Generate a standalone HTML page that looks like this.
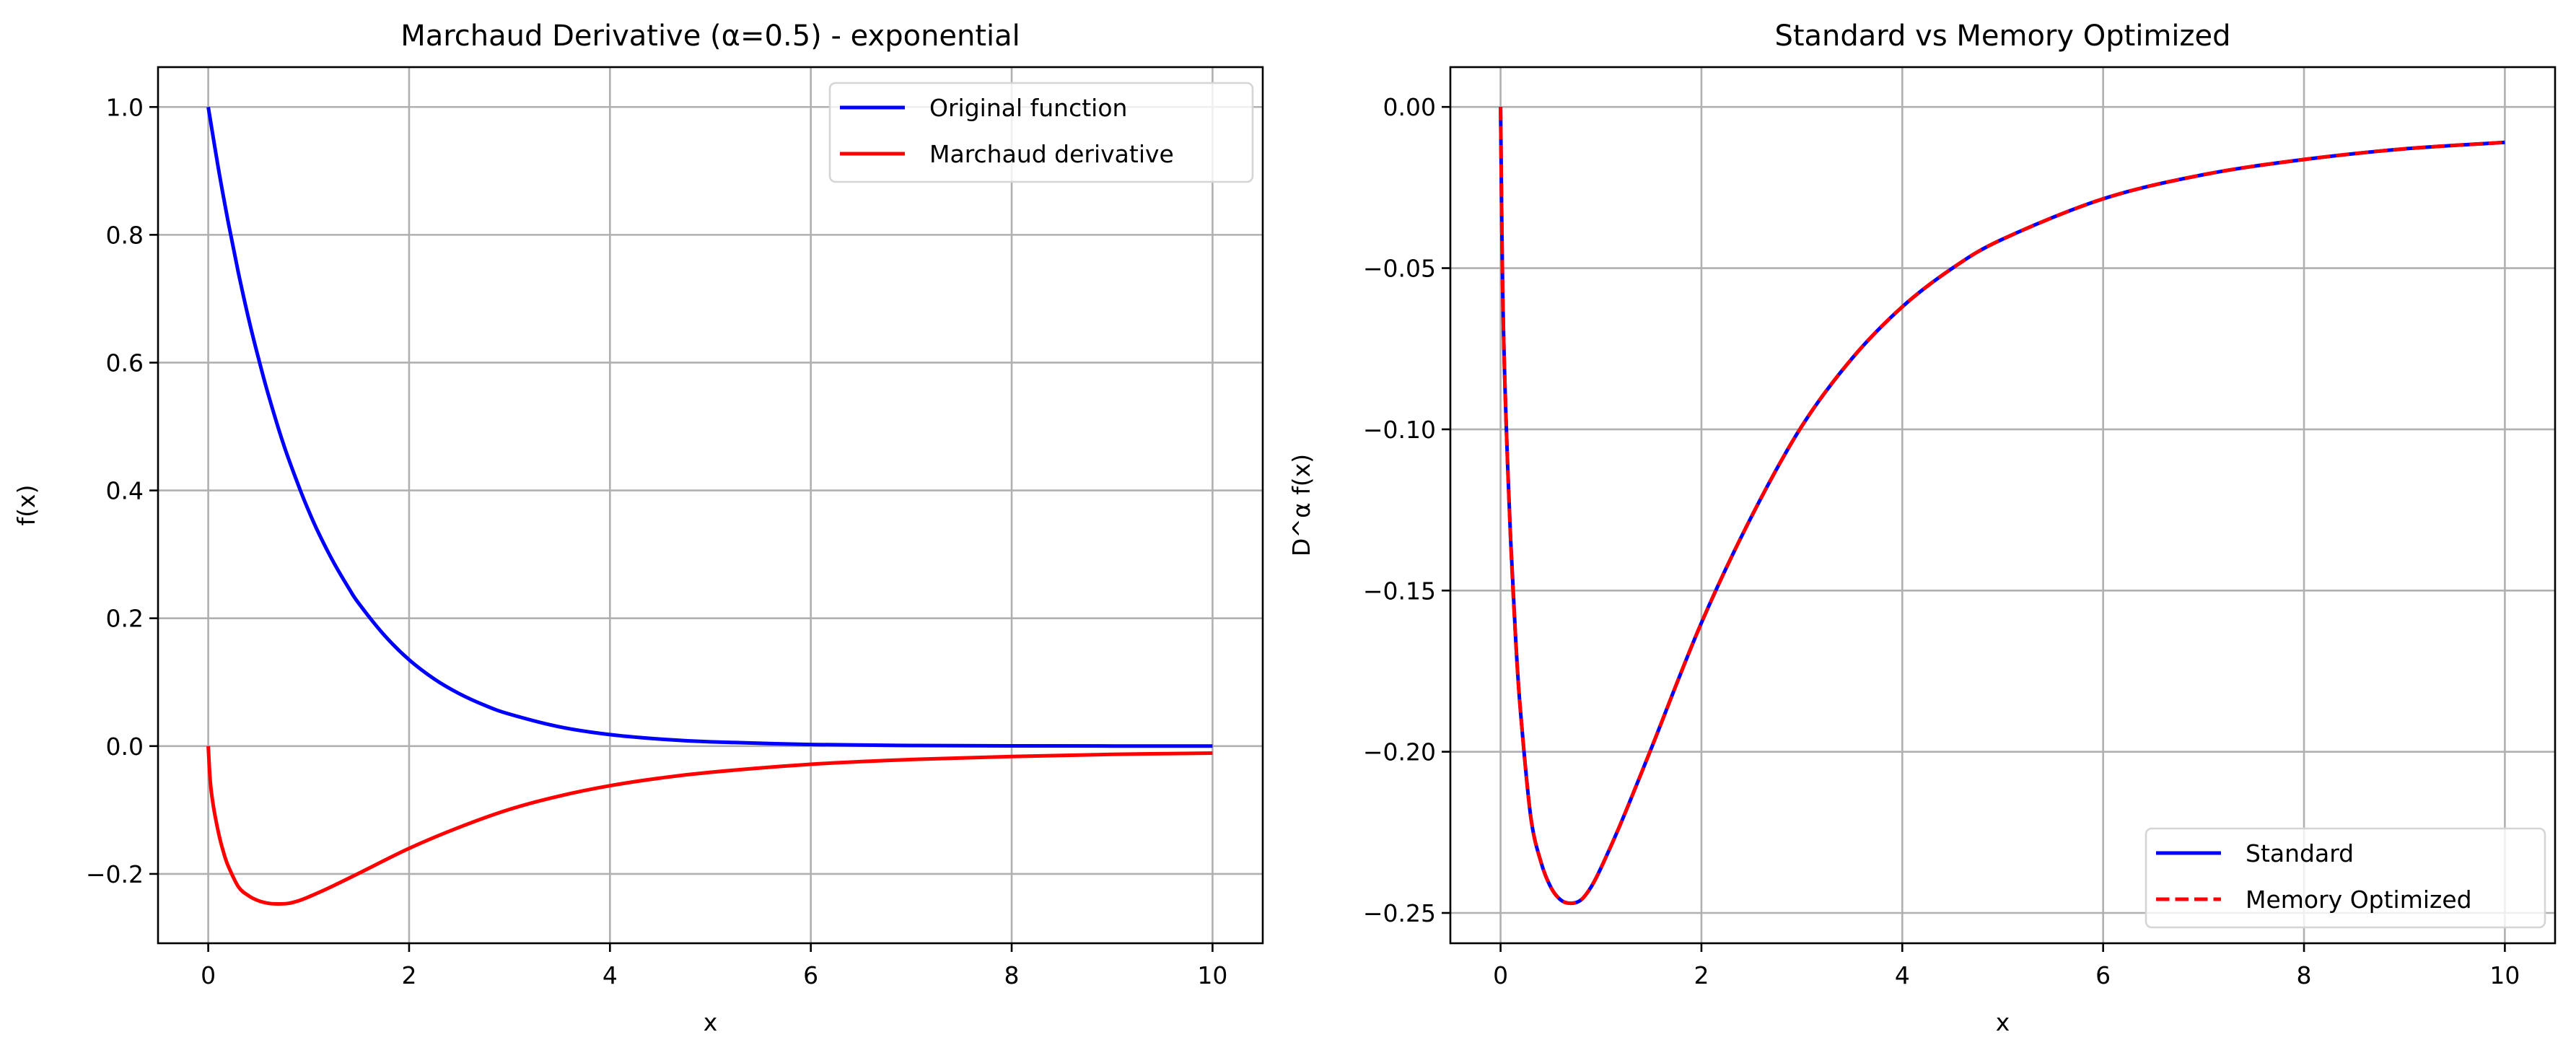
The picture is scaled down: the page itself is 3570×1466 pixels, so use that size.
<!DOCTYPE html>
<html><head><meta charset="utf-8">
<style>
html,body{margin:0;padding:0;background:#fff;}
svg{display:block;font-family:"DejaVu Sans","Liberation Sans",sans-serif;}
</style></head>
<body>
<svg id="fig" width="3570" height="1466" viewBox="0 0 3570 1466" xmlns="http://www.w3.org/2000/svg">
<rect x="0" y="0" width="3570" height="1466" fill="#fff"/>
</svg>
<script>
// ---- data ----
const xTicks = [0, 2, 4, 6, 8, 10];
const leftYTicks = [-0.2, 0.0, 0.2, 0.4, 0.6, 0.8, 1.0];
const leftYTickLabels = ["\u22120.2", "0.0", "0.2", "0.4", "0.6", "0.8", "1.0"];
const rightYTicks = [-0.25, -0.20, -0.15, -0.10, -0.05, 0.00];
const rightYTickLabels = ["\u22120.25", "\u22120.20", "\u22120.15", "\u22120.10", "\u22120.05", "0.00"];

const origX = [0, 0.1, 0.2, 0.3, 0.4, 0.5, 0.6, 0.75, 0.9, 1, 1.1, 1.25, 1.4, 1.5, 1.75, 2, 2.25, 2.5, 2.75, 3, 3.5, 4, 4.5, 5, 6, 7, 8, 9, 10];
const origY = [1, 0.905, 0.819, 0.741, 0.670, 0.607, 0.549, 0.472, 0.407, 0.368, 0.333, 0.287, 0.247, 0.223, 0.174, 0.135, 0.105, 0.082, 0.064, 0.050, 0.030, 0.018, 0.011, 0.0067, 0.0025, 0.0009, 0.0003, 0.0001, 0.0];

const derivX = [0, 0.02, 0.05, 0.1, 0.15, 0.2, 0.3, 0.4, 0.5, 0.6, 0.7, 0.8, 0.9, 1.0, 1.2, 1.5, 2, 2.5, 3, 3.5, 4, 4.5, 5, 6, 7, 8, 9, 10];
const derivY = [0, -0.055, -0.093, -0.134, -0.165, -0.188, -0.220, -0.234, -0.242, -0.246, -0.247, -0.246, -0.242, -0.236, -0.222, -0.199, -0.160, -0.127, -0.099, -0.078, -0.062, -0.050, -0.041, -0.0285, -0.021, -0.0163, -0.013, -0.011];

// ---- layout ----
const NS = "http://www.w3.org/2000/svg";
const svg = document.getElementById('fig');
function el(tag, attrs, parent) {
  const e = document.createElementNS(NS, tag);
  for (const k in attrs) e.setAttribute(k, attrs[k]);
  (parent || svg).appendChild(e);
  return e;
}
function makeAxes(L, R, T, B, xmin, xmax, ymin, ymax) {
  return {L, R, T, B,
    sx: v => L + (v - xmin) / (xmax - xmin) * (R - L),
    sy: v => B - (v - ymin) / (ymax - ymin) * (B - T)};
}
function smoothPath(ax, xs, ys) {
  const p = xs.map((x, i) => [ax.sx(x), ax.sy(ys[i])]);
  let d = "M" + p[0][0].toFixed(1) + "," + p[0][1].toFixed(1);
  for (let i = 0; i < p.length - 1; i++) {
    const p0 = p[Math.max(0, i - 1)], p1 = p[i], p2 = p[i + 1], p3 = p[Math.min(p.length - 1, i + 2)];
    const c1 = [p1[0] + (p2[0] - p0[0]) / 6, p1[1] + (p2[1] - p0[1]) / 6];
    const c2 = [p2[0] - (p3[0] - p1[0]) / 6, p2[1] - (p3[1] - p1[1]) / 6];
    d += " C" + c1[0].toFixed(1) + "," + c1[1].toFixed(1) + " " + c2[0].toFixed(1) + "," + c2[1].toFixed(1) + " " + p2[0].toFixed(1) + "," + p2[1].toFixed(1);
  }
  return d;
}
function drawFrame(ax, prefix, yTicks, yLabels, title, ylabel, ylabelX) {
  const g = el('g', {});
  
  
  xTicks.forEach(t => {
    const x = ax.sx(t);
    const gl = el('line', {x1: x, x2: x, y1: ax.T, y2: ax.B, stroke: '#b0b0b0', 'stroke-width': 2.6}, g);
    
    
  });
  yTicks.forEach(t => {
    const y = ax.sy(t);
    const gl = el('line', {x1: ax.L, x2: ax.R, y1: y, y2: y, stroke: '#b0b0b0', 'stroke-width': 2.6}, g);
    
    
  });
  xTicks.forEach(t => {
    const x = ax.sx(t);
    el('line', {x1: x, x2: x, y1: ax.B, y2: ax.B + 12, stroke: '#000', 'stroke-width': 2.6}, g);
    const tx = el('text', {x: x, y: ax.B + 56, 'font-size': 33, 'text-anchor': 'middle', fill: '#000'}, g);
    tx.textContent = String(t);
    
    
  });
  yTicks.forEach((t, i) => {
    const y = ax.sy(t);
    el('line', {x1: ax.L - 12, x2: ax.L, y1: y, y2: y, stroke: '#000', 'stroke-width': 2.6}, g);
    const tx = el('text', {x: ax.L - 20, y: y + 12, 'font-size': 33, 'text-anchor': 'end', fill: '#000'}, g);
    tx.textContent = yLabels[i];
    
    
  });
  const tt = el('text', {x: (ax.L + ax.R) / 2, y: 63, 'font-size': 40, 'text-anchor': 'middle', fill: '#000'}, g);
  tt.textContent = title;
  
  
  const xl = el('text', {x: (ax.L + ax.R) / 2, y: 1428, 'font-size': 33, 'text-anchor': 'middle', fill: '#000'}, g);
  xl.textContent = 'x';
  
  
  const cy = (ax.T + ax.B) / 2;
  const yl = el('text', {x: ylabelX, y: cy, 'font-size': 33, 'text-anchor': 'middle', fill: '#000', transform: 'rotate(-90 ' + ylabelX + ' ' + cy + ')'}, g);
  yl.textContent = ylabel;
  
  
  return g;
}
function drawSpines(ax, g) {
  const r = el('rect', {x: ax.L, y: ax.T, width: ax.R - ax.L, height: ax.B - ax.T, fill: 'none', stroke: '#000', 'stroke-width': 2.6}, g);
  
  
}
function drawLegend(g, x, y, w, h, items, name) {
  const lg = el('g', {}, g);
  
  
  el('rect', {x: x, y: y, width: w, height: h, rx: 8, fill: 'rgba(255,255,255,0.8)', stroke: '#d5d5d5', 'stroke-width': 2.6}, lg);
  items.forEach((it, i) => {
    const yy = y + 34 + i * 64;
    const ln = el('line', {x1: x + 14, x2: x + 104, y1: yy, y2: yy, stroke: it.color, 'stroke-width': 5, 'stroke-dasharray': it.dash || 'none'}, lg);
    
    
    const t = el('text', {x: x + 138, y: yy + 12, 'font-size': 33, fill: '#000'}, lg);
    t.textContent = it.label;
    
    
  });
}

// ---- left plot ----
const axL = makeAxes(219, 1750, 93, 1307, -0.5, 10.5, -0.3085, 1.0624);
const gL = drawFrame(axL, 'left', leftYTicks, leftYTickLabels, 'Marchaud Derivative (\u03b1=0.5) - exponential', 'f(x)', 48);
const p1 = el('path', {d: smoothPath(axL, origX, origY), fill: 'none', stroke: '#0000ff', 'stroke-width': 5, 'stroke-linejoin': 'round'}, gL);


const p2 = el('path', {d: smoothPath(axL, derivX, derivY), fill: 'none', stroke: '#ff0000', 'stroke-width': 5, 'stroke-linejoin': 'round'}, gL);


drawSpines(axL, gL);
drawLegend(gL, 1150, 115, 586, 137, [
  {label: 'Original function', color: '#0000ff'},
  {label: 'Marchaud derivative', color: '#ff0000'}], 'left-legend');

// ---- right plot ----
const axR = makeAxes(2010, 3541, 93, 1307, -0.5, 10.5, -0.2594, 0.01235);
const gR = drawFrame(axR, 'right', rightYTicks, rightYTickLabels, 'Standard vs Memory Optimized', 'D^\u03b1 f(x)', 1815);
const p3 = el('path', {d: smoothPath(axR, derivX, derivY), fill: 'none', stroke: '#0000ff', 'stroke-width': 5, 'stroke-linejoin': 'round'}, gR);


const p4 = el('path', {d: smoothPath(axR, derivX, derivY), fill: 'none', stroke: '#ff0000', 'stroke-width': 5, 'stroke-dasharray': '18.5,8'}, gR);


drawSpines(axR, gR);
drawLegend(gR, 2974, 1148, 553, 137, [
  {label: 'Standard', color: '#0000ff'},
  {label: 'Memory Optimized', color: '#ff0000', dash: '18.5,8'}], 'right-legend');
</script>
</body></html>
